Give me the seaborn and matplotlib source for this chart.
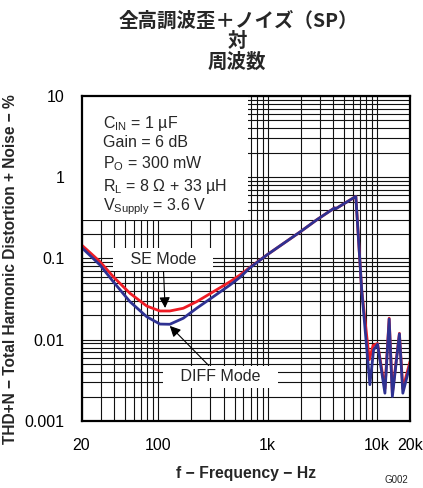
import numpy as np
import pandas as pd
import matplotlib
matplotlib.use("Agg")
import matplotlib.pyplot as plt
from matplotlib.ticker import LogLocator, NullFormatter, FixedLocator, FixedFormatter
from matplotlib.patches import Rectangle
import seaborn as sns

# ---- data ----
se_freq = [20, 29.5, 39, 55.4, 78.8, 104, 128, 170, 225, 320, 454, 560, 692, 1000, 2000, 2800,
           4100, 4200, 6400, 7240, 8500, 9200, 10100, 11800, 12900, 13800, 16000, 17200, 20000]
se_thd = [0.147, 0.0914, 0.0597, 0.0373, 0.026, 0.0226, 0.0226, 0.0244, 0.0294, 0.039, 0.0518,
          0.0627, 0.078, 0.112, 0.214, 0.298, 0.42, 0.41, 0.58, 0.041, 0.0057, 0.0085, 0.0090,
          0.0025, 0.0184, 0.0022, 0.012, 0.0025, 0.0054]

diff_freq = [20, 29.5, 39, 55.4, 78.8, 104, 128, 170, 225, 320, 454, 560, 692, 1000, 2000, 2800,
             4100, 4200, 6400, 7240, 8600, 9300, 10100, 11800, 12900, 13800, 16000, 17200, 20000]
diff_thd = [0.137, 0.0832, 0.0518, 0.0294, 0.0192, 0.0156, 0.0155, 0.0184, 0.0244, 0.0339, 0.0472,
            0.0587, 0.077, 0.112, 0.214, 0.298, 0.42, 0.41, 0.58, 0.041, 0.0028, 0.0075, 0.0088,
            0.0022, 0.018, 0.0020, 0.0118, 0.0022, 0.0049]

x_ticks = [20, 100, 1000, 10000, 20000]
x_tick_labels = ["20", "100", "1k", "10k", "20k"]
y_ticks = [0.001, 0.01, 0.1, 1, 10]
y_tick_labels = ["0.001", "0.01", "0.1", "1", "10"]

conditions = [r"C$_{\mathrm{IN}}$ = 1 µF", "Gain = 6 dB", r"P$_{\mathrm{O}}$ = 300 mW",
              r"R$_{\mathrm{L}}$ = 8 Ω + 33 µH", r"V$_{\mathrm{Supply}}$ = 3.6 V"]

df = pd.concat([
    pd.DataFrame({"f": se_freq, "thd": se_thd, "mode": "SE"}),
    pd.DataFrame({"f": diff_freq, "thd": diff_thd, "mode": "DIFF"}),
])

sns.set_style("white")
plt.rcParams["font.family"] = ["Liberation Sans", "Noto Sans CJK JP", "DejaVu Sans"]
plt.rcParams["mathtext.fontset"] = "custom"
plt.rcParams["mathtext.rm"] = "Liberation Sans"
plt.rcParams["mathtext.it"] = "Liberation Sans:italic"
plt.rcParams["mathtext.bf"] = "Liberation Sans:bold"

fig = plt.figure(figsize=(4.23, 4.88), dpi=100)
ax = fig.add_axes([0.1927, 0.1373, 0.7766, 0.666])

sns.lineplot(data=df, x="f", y="thd", hue="mode", hue_order=["SE", "DIFF"],
             palette={"SE": "#ee1c25", "DIFF": "#2e3192"}, linewidth=2.0,
             sort=False, estimator=None, legend=False, ax=ax, zorder=4)

ax.set_xscale("log")
ax.set_yscale("log")
ax.set_xlim(20, 20000)
ax.set_ylim(0.001, 10)

ax.xaxis.set_major_locator(FixedLocator(x_ticks))
ax.xaxis.set_major_formatter(FixedFormatter(x_tick_labels))
ax.xaxis.set_minor_locator(LogLocator(base=10, subs=np.arange(1, 10)))
ax.xaxis.set_minor_formatter(NullFormatter())
ax.yaxis.set_major_locator(FixedLocator(y_ticks))
ax.yaxis.set_major_formatter(FixedFormatter(y_tick_labels))
ax.yaxis.set_minor_locator(LogLocator(base=10, subs=np.arange(1, 10)))
ax.yaxis.set_minor_formatter(NullFormatter())

ax.grid(True, which="both", color="#111111", linewidth=0.8)
ax.set_axisbelow(True)
ax.tick_params(which="both", length=0, labelsize=11.5, pad=12, colors="black")
for s in ax.spines.values():
    s.set_visible(True)
    s.set_color("black")
    s.set_linewidth(1.6)
    s.set_zorder(6)

ax.set_xlabel("f − Frequency − Hz", fontsize=11.3, fontweight="bold")
ax.set_ylabel("THD+N − Total Harmonic Distortion + Noise − %", fontsize=11.2,
              fontweight="bold")
ax.xaxis.set_label_coords(0.5, -0.14)
ax.yaxis.set_label_coords(-0.193, 0.466)

# conditions box
ax.add_patch(Rectangle((0, 0.618), 0.507, 0.382, transform=ax.transAxes,
                       facecolor="white", edgecolor="none", zorder=2))
for txt, yy in zip(conditions, [0.916, 0.856, 0.791, 0.723, 0.658]):
    ax.text(0.0645, yy, txt, transform=ax.transAxes, fontsize=11.5, va="center",
            ha="left", zorder=3)

arrow = dict(arrowstyle="-|>", color="black", lw=0.8, mutation_scale=16,
             shrinkA=0, shrinkB=0)
ax.annotate("   SE Mode   ", xy=(116, 0.0246), xytext=(111, 0.096), fontsize=11.5,
            ha="center", va="center", arrowprops=arrow, zorder=5,
            bbox=dict(boxstyle="square,pad=0.25", fc="white", ec="none"))
ax.annotate("   DIFF Mode   ", xy=(128, 0.0148), xytext=(368, 0.00348), fontsize=11.5,
            ha="center", va="center", arrowprops=arrow, zorder=5,
            bbox=dict(boxstyle="square,pad=0.25", fc="white", ec="none"))

tfam = ["Noto Sans CJK JP", "DejaVu Sans"]
fig.text(0.563, 0.958, "全高調波歪＋ノイズ（SP）", ha="center", va="center",
         fontsize=14, fontweight="bold", family=tfam)
fig.text(0.561, 0.914, "対", ha="center", va="center",
         fontsize=14, fontweight="bold", family=tfam)
fig.text(0.561, 0.872, "周波数", ha="center", va="center",
         fontsize=14, fontweight="bold", family=tfam)
fig.text(0.965, 0.016, "G002", ha="right", va="center", fontsize=7)

fig.savefig("out.png", dpi=100)
